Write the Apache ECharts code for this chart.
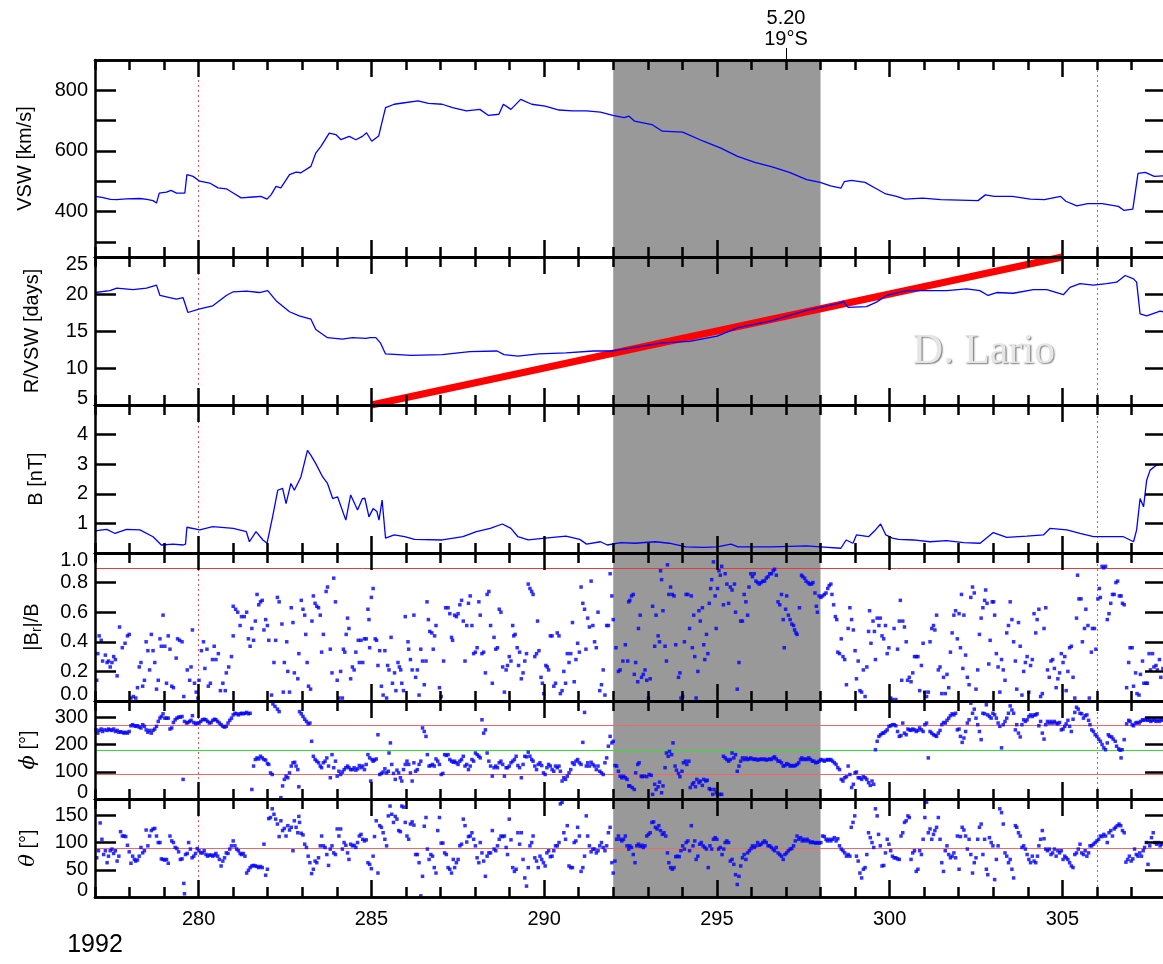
<!DOCTYPE html>
<html>
<head>
<meta charset="utf-8">
<script src="https://cdn.jsdelivr.net/npm/echarts@6/dist/echarts.min.js"></script>
<style>
html, body { margin: 0; padding: 0; background: #ffffff; }
#chart { width: 1163px; height: 964px; }
</style>
</head>
<body>
<div id="chart"></div>
<script>
// ---- time axis (day of year 1992) ----
const dayMin = 277, dayMax = 308;
const majorDays = [280, 285, 290, 295, 300, 305];
const shadeDays = [292, 298];
const markerDays = [280, 306];
const yearLabel = '1992';
const annotDay = 297;
const annotText = ['5.20', '19°S'];

// ---- y tick marks and tick labels ----
const vswTicks = [300, 400, 500, 600, 700, 800];
const vswLabels = [400, 600, 800];
const rvswTicks = [10, 15, 20];
const rvswLabels = [5, 10, 15, 20, 25];
const bTicks = [1, 2, 3, 4];
const bLabels = [1, 2, 3, 4];
const ratioTicks = [0.2, 0.4, 0.6, 0.8];
const ratioLabels = [0, 0.2, 0.4, 0.6, 0.8, 1.0];
const phiTicks = [100, 200, 300];
const phiLabels = [0, 100, 200, 300];
const thetaTicks = [50, 100, 150];
const thetaLabels = [0, 50, 100, 150];

// ---- reference levels ----
const ratioRef = [0.9];
const phiRefRed = [90, 270];
const phiRefGreen = [180];
const thetaRef = [90];

// R/VSW guide line (days)
const fitLine = [[285, 5], [305, 25]];

// ---- solar wind speed [km/s] ----
const vswData = [
[277.0,450],[277.2,447],[277.45,440],[277.63,439],[277.9,442],[278.3,443],[278.5,440],[278.68,436],[278.78,428],[278.86,461],
[279.07,464],[279.2,470],[279.36,461],[279.6,461],[279.66,522],[279.84,516],[280.03,500],[280.32,494],[280.56,478],[280.8,475],
[281.0,461],[281.23,445],[281.57,448],[281.8,450],[281.98,441],[282.1,456],[282.24,483],[282.38,478],[282.63,522],[282.82,530],
[282.96,528],[283.25,549],[283.39,593],[283.54,615],[283.78,659],[283.97,654],[284.12,637],[284.36,648],[284.55,637],[284.74,648],
[284.86,660],[285.01,632],[285.21,649],[285.28,682],[285.41,743],[285.66,754],[285.96,759],[286.35,765],[286.65,757],[287.05,754],
[287.35,743],[287.75,732],[288.14,737],[288.39,717],[288.69,721],[288.82,754],[289.04,737],[289.32,770],[289.64,754],[290.03,748],
[290.43,735],[290.83,732],[291.23,732],[291.63,728],[291.99,717],[292.32,710],[292.45,715],[292.62,698],[293.12,687],[293.42,665],
[294.01,662],[294.61,632],[295.1,610],[295.6,582],[296.1,562],[296.6,547],[297.1,529],[297.6,505],[297.99,496],[298.29,485],
[298.59,477],[298.69,499],[298.89,503],[299.29,496],[299.59,477],[299.89,458],[300.2,450],[300.44,441],[300.96,444],[301.48,439],
[302.3,437],[302.56,436],[302.77,455],[303.03,450],[303.55,450],[304.07,441],[304.48,439],[304.95,450],[305.1,434],[305.42,419],
[305.73,426],[306.15,426],[306.62,417],[306.78,404],[307.04,408],[307.19,526],[307.4,529],[307.66,516],[308.0,518]
];

// ---- R/VSW [days] ----
const rvswData = [
[277.0,20.2],[277.43,20.45],[277.63,20.8],[278.1,20.6],[278.49,20.8],[278.78,21.2],[278.88,19.8],[279.16,19.5],[279.36,19.3],[279.55,19.5],
[279.69,17.5],[280.03,18.0],[280.41,18.4],[280.8,19.8],[281.0,20.3],[281.38,20.4],[281.76,20.2],[282.0,20.45],[282.24,19.1],[282.63,17.6],
[282.91,17.05],[283.25,16.6],[283.39,15.2],[283.73,14.1],[284.16,13.9],[284.45,14.1],[284.84,14.0],[284.96,14.1],[285.13,14.1],[285.26,13.4],
[285.41,11.9],[286.15,11.7],[287.05,11.8],[287.85,12.2],[288.64,12.3],[288.84,11.8],[289.24,11.6],[289.84,11.9],[290.63,12.05],[291.43,12.3],
[291.99,12.3],[292.62,12.8],[293.42,13.4],[294.21,13.6],[295.01,14.3],[295.61,15.45],[296.6,16.4],[297.6,17.8],[298.59,18.8],[298.66,19.0],
[298.8,18.2],[299.33,18.3],[299.62,18.9],[299.91,19.8],[300.49,20.45],[301.16,20.45],[301.65,20.45],[302.23,20.7],[302.61,20.45],[302.85,19.8],
[303.1,20.2],[303.58,20.1],[304.16,20.6],[304.55,20.6],[305.03,19.9],[305.22,20.9],[305.51,21.4],[305.9,21.2],[306.28,21.4],[306.57,21.6],
[306.82,22.5],[307.06,22.05],[307.15,21.6],[307.25,17.3],[307.44,17.05],[307.83,17.7],[308.0,17.5]
];

// ---- magnetic field magnitude [nT] ----
const bData = [
[277.0,0.75],[277.34,0.8],[277.58,0.66],[277.91,0.8],[278.3,0.78],[278.68,0.55],[278.92,0.27],[279.26,0.30],[279.55,0.27],[279.62,0.3],
[279.66,0.87],[280.03,0.78],[280.41,0.89],[281.0,0.83],[281.38,0.72],[281.47,0.38],[281.66,0.72],[281.86,0.44],[281.98,0.33],[282.14,1.22],
[282.29,2.12],[282.43,2.18],[282.53,1.67],[282.67,2.35],[282.77,2.12],[282.96,2.57],[283.15,3.47],[283.25,3.30],[283.39,3.02],[283.59,2.57],
[283.73,2.35],[283.88,1.84],[284.02,1.9],[284.26,1.11],[284.4,1.96],[284.6,1.45],[284.74,1.84],[284.81,1.85],[284.93,1.22],[285.05,1.5],
[285.16,1.4],[285.22,1.11],[285.31,1.79],[285.41,0.5],[285.66,0.61],[285.96,0.55],[286.25,0.46],[287.05,0.44],[287.65,0.55],[288.04,0.72],
[288.44,0.83],[288.79,0.98],[289.04,0.83],[289.24,0.55],[289.54,0.44],[290.03,0.5],[290.63,0.57],[291.03,0.46],[291.23,0.3],[291.63,0.38],
[291.83,0.27],[292.22,0.35],[292.62,0.33],[293.22,0.38],[293.62,0.33],[294.11,0.21],[294.61,0.19],[295.01,0.21],[295.41,0.3],[295.61,0.21],
[296.6,0.21],[297.6,0.24],[297.99,0.21],[298.59,0.16],[298.74,0.44],[298.94,0.33],[299.04,0.61],[299.39,0.55],[299.59,0.78],[299.74,0.98],
[299.89,0.61],[300.08,0.5],[300.26,0.46],[300.69,0.44],[301.17,0.38],[301.65,0.42],[302.14,0.35],[302.62,0.33],[303.0,0.69],[303.39,0.53],
[303.97,0.57],[304.45,0.61],[304.64,0.83],[305.13,0.78],[305.51,0.66],[305.9,0.55],[306.28,0.55],[306.77,0.55],[307.06,0.38],[307.15,0.78],
[307.25,1.84],[307.35,1.56],[307.44,2.46],[307.54,2.8],[307.73,2.97],[308.0,3.02]
];

// ---- |Br|/B ----
const ratioData = [
[277.05,0.14],[277.08,0.32],[277.12,0.44],[277.18,0.41],[277.22,0.27],[277.3,0.31],[277.35,0.26],[277.39,0.27],[277.44,0.23],[277.49,0.26],
[277.54,0.30],[277.59,0.28],[277.64,0.17],[277.71,0.50],[277.79,0.36],[277.87,0.39],[277.94,0.44],[277.99,0.45],[278.04,0.02],[278.11,0.03],
[278.18,0.02],[278.23,0.09],[278.28,0.23],[278.33,0.26],[278.38,0.10],[278.43,0.14],[278.48,0.40],[278.53,0.34],[278.58,0.21],[278.63,0.45],
[278.68,0.34],[278.73,0.26],[278.78,0.08],[278.83,0.14],[278.88,0.42],[278.92,0.37],[278.97,0.58],[279.02,0.37],[279.07,0.12],[279.12,0.44],
[279.17,0.35],[279.22,0.10],[279.27,0.09],[279.35,0.29],[279.39,0.42],[279.45,0.41],[279.52,0.40],[279.57,0.03],[279.67,0.21],[279.74,0.14],
[279.78,0.23],[279.82,0.48],[279.88,0.12],[279.93,0.06],[279.98,0.02],[280.01,0.14],[280.08,0.34],[280.14,0.40],[280.18,0.22],[280.24,0.35],
[280.28,0.10],[280.34,0.12],[280.4,0.28],[280.45,0.37],[280.5,0.28],[280.57,0.32],[280.63,0.07],[280.7,0.12],[280.77,0.07],[280.8,0.19],
[280.87,0.23],[280.95,0.30],[281.0,0.44],[281.0,0.64],[281.07,0.62],[281.13,0.60],[281.2,0.51],[281.24,0.57],[281.32,0.57],[281.39,0.60],
[281.44,0.42],[281.49,0.37],[281.54,0.49],[281.59,0.41],[281.64,0.54],[281.69,0.72],[281.74,0.65],[281.79,0.67],[281.84,0.68],[281.89,0.48],
[281.94,0.55],[281.99,0.51],[282.03,0.41],[282.11,0.04],[282.18,0.26],[282.23,0.41],[282.28,0.70],[282.33,0.67],[282.41,0.52],[282.45,0.06],
[282.48,0.26],[282.55,0.40],[282.58,0.20],[282.63,0.06],[282.68,0.63],[282.73,0.53],[282.77,0.19],[282.87,0.15],[282.9,0.32],[282.97,0.68],
[283.02,0.62],[283.07,0.58],[283.1,0.45],[283.14,0.26],[283.18,0.10],[283.24,0.08],[283.28,0.54],[283.32,0.71],[283.37,0.66],[283.42,0.64],
[283.47,0.63],[283.52,0.58],[283.56,0.33],[283.61,0.45],[283.69,0.74],[283.73,0.77],[283.81,0.35],[283.86,0.19],[283.91,0.83],[283.96,0.67],
[284.01,0.14],[284.06,0.02],[284.11,0.20],[284.16,0.02],[284.19,0.35],[284.23,0.33],[284.27,0.45],[284.31,0.56],[284.35,0.49],[284.4,0.15],
[284.45,0.23],[284.5,0.21],[284.55,0.33],[284.62,0.41],[284.65,0.26],[284.7,0.41],[284.75,0.26],[284.8,0.42],[284.85,0.42],[284.9,0.62],
[284.93,0.55],[284.95,0.36],[285.0,0.70],[285.05,0.76],[285.11,0.42],[285.15,0.41],[285.19,0.24],[285.24,0.34],[285.29,0.10],[285.34,0.04],
[285.39,0.34],[285.44,0.02],[285.47,0.24],[285.51,0.21],[285.57,0.43],[285.61,0.12],[285.67,0.19],[285.71,0.07],[285.77,0.26],[285.81,0.23],
[285.85,0.21],[285.88,0.12],[285.93,0.07],[285.98,0.57],[286.06,0.40],[286.08,0.35],[286.13,0.28],[286.18,0.21],[286.23,0.58],[286.28,0.16],
[286.33,0.21],[286.38,0.04],[286.43,0.35],[286.48,0.27],[286.53,0.11],[286.58,0.27],[286.61,0.67],[286.65,0.55],[286.69,0.47],[286.75,0.46],
[286.79,0.35],[286.83,0.44],[286.87,0.51],[286.97,0.09],[287.02,0.03],[287.09,0.27],[287.15,0.63],[287.22,0.63],[287.27,0.59],[287.32,0.43],
[287.35,0.41],[287.41,0.58],[287.46,0.57],[287.51,0.59],[287.56,0.65],[287.61,0.68],[287.66,0.54],[287.71,0.27],[287.76,0.51],[287.81,0.66],
[287.86,0.71],[287.91,0.51],[287.96,0.32],[288.01,0.33],[288.06,0.36],[288.11,0.67],[288.15,0.58],[288.2,0.32],[288.25,0.33],[288.3,0.19],
[288.35,0.72],[288.4,0.74],[288.45,0.51],[288.5,0.12],[288.55,0.43],[288.6,0.35],[288.65,0.36],[288.7,0.62],[288.75,0.60],[288.8,0.23],
[288.85,0.06],[288.9,0.21],[288.94,0.24],[288.99,0.30],[289.04,0.27],[289.09,0.51],[289.12,0.44],[289.16,0.45],[289.22,0.36],[289.26,0.24],
[289.29,0.33],[289.34,0.15],[289.39,0.19],[289.44,0.27],[289.49,0.32],[289.54,0.79],[289.59,0.76],[289.64,0.74],[289.68,0.72],[289.73,0.30],
[289.78,0.32],[289.81,0.54],[289.85,0.34],[289.91,0.16],[289.95,0.12],[289.99,0.05],[290.05,0.24],[290.09,0.23],[290.13,0.21],[290.18,0.44],
[290.23,0.44],[290.28,0.10],[290.33,0.12],[290.38,0.46],[290.43,0.44],[290.47,0.05],[290.52,0.07],[290.57,0.20],[290.62,0.12],[290.67,0.32],
[290.72,0.26],[290.77,0.32],[290.82,0.53],[290.87,0.13],[290.92,0.28],[290.97,0.39],[291.02,0.33],[291.07,0.77],[291.12,0.66],[291.17,0.62],
[291.21,0.35],[291.26,0.56],[291.31,0.50],[291.36,0.81],[291.41,0.51],[291.46,0.40],[291.51,0.36],[291.56,0.60],[291.61,0.07],[291.66,0.11],
[291.71,0.21],[291.76,0.04],[291.81,0.51],[291.86,0.51],[291.91,0.86],[291.96,0.71],[292.0,0.55],[292.08,0.36],[292.15,0.20],[292.2,0.21],
[292.28,0.27],[292.35,0.38],[292.42,0.27],[292.45,0.67],[292.48,0.68],[292.53,0.71],[292.58,0.72],[292.61,0.18],[292.65,0.26],[292.71,0.13],
[292.73,0.49],[292.78,0.58],[292.82,0.16],[292.87,0.18],[292.92,0.21],[292.97,0.14],[293.02,0.02],[293.07,0.15],[293.14,0.64],[293.2,0.37],
[293.24,0.58],[293.3,0.44],[293.34,0.40],[293.37,0.88],[293.4,0.82],[293.44,0.61],[293.5,0.37],[293.54,0.27],[293.57,0.92],[293.61,0.72],
[293.66,0.77],[293.71,0.72],[293.76,0.71],[293.81,0.38],[293.89,0.16],[293.93,0.19],[293.96,0.02],[294.01,0.03],[294.06,0.40],[294.11,0.72],
[294.16,0.72],[294.21,0.49],[294.26,0.71],[294.29,0.36],[294.33,0.58],[294.36,0.30],[294.4,0.02],[294.45,0.20],[294.48,0.61],[294.52,0.54],
[294.58,0.63],[294.62,0.38],[294.65,0.28],[294.7,0.45],[294.74,0.32],[294.78,0.66],[294.82,0.76],[294.85,0.82],[294.9,0.94],[294.95,0.71],
[294.98,0.49],[295.02,0.76],[295.06,0.88],[295.1,0.85],[295.14,0.91],[295.19,0.65],[295.24,0.86],[295.29,0.79],[295.34,0.66],[295.39,0.77],
[295.44,0.75],[295.51,0.79],[295.54,0.60],[295.59,0.08],[295.64,0.26],[295.69,0.54],[295.74,0.54],[295.79,0.72],[295.84,0.67],[295.89,0.58],
[295.93,0.77],[295.98,0.86],[296.03,0.84],[296.08,0.86],[296.13,0.81],[296.18,0.80],[296.23,0.79],[296.28,0.80],[296.33,0.81],[296.38,0.81],
[296.43,0.83],[296.48,0.84],[296.53,0.86],[296.58,0.86],[296.63,0.88],[296.67,0.89],[296.72,0.85],[296.77,0.67],[296.82,0.65],[296.87,0.72],
[296.92,0.55],[296.95,0.36],[296.99,0.62],[297.02,0.71],[297.07,0.58],[297.12,0.55],[297.17,0.52],[297.22,0.51],[297.25,0.48],[297.29,0.46],
[297.32,0.45],[297.39,0.63],[297.45,0.85],[297.48,0.84],[297.54,0.83],[297.58,0.81],[297.64,0.80],[297.68,0.79],[297.74,0.79],[297.78,0.80],
[297.84,0.73],[297.88,0.64],[297.91,0.60],[297.96,0.71],[298.01,0.70],[298.06,0.71],[298.11,0.72],[298.16,0.73],[298.21,0.76],[298.25,0.78],
[298.3,0.79],[298.33,0.72],[298.38,0.65],[298.43,0.57],[298.47,0.55],[298.5,0.33],[298.55,0.32],[298.6,0.42],[298.65,0.30],[298.7,0.28],
[298.75,0.11],[298.8,0.49],[298.85,0.63],[298.9,0.55],[298.95,0.48],[299.0,0.34],[299.04,0.15],[299.09,0.27],[299.14,0.07],[299.19,0.06],
[299.24,0.21],[299.29,0.03],[299.34,0.23],[299.39,0.47],[299.42,0.61],[299.46,0.39],[299.52,0.54],[299.56,0.47],[299.59,0.28],[299.64,0.56],
[299.69,0.51],[299.73,0.56],[299.78,0.44],[299.83,0.42],[299.88,0.51],[299.93,0.32],[299.98,0.36],[300.03,0.02],[300.08,0.01],[300.13,0.49],
[300.18,0.01],[300.23,0.35],[300.28,0.54],[300.31,0.68],[300.35,0.14],[300.38,0.54],[300.43,0.50],[300.48,0.40],[300.52,0.14],[300.57,0.16],
[300.62,0.13],[300.67,0.19],[300.72,0.30],[300.77,0.30],[300.82,0.30],[300.87,0.07],[300.92,0.24],[300.97,0.39],[301.02,0.06],[301.07,0.03],
[301.12,0.06],[301.17,0.40],[301.22,0.49],[301.27,0.51],[301.31,0.48],[301.36,0.58],[301.41,0.21],[301.46,0.23],[301.51,0.05],[301.56,0.16],
[301.61,0.05],[301.66,0.18],[301.71,0.09],[301.76,0.33],[301.81,0.46],[301.86,0.58],[301.91,0.61],[301.96,0.42],[302.01,0.59],[302.05,0.36],
[302.08,0.72],[302.12,0.22],[302.15,0.58],[302.2,0.31],[302.25,0.16],[302.3,0.11],[302.35,0.70],[302.4,0.77],[302.45,0.73],[302.5,0.08],
[302.55,0.21],[302.6,0.45],[302.65,0.56],[302.7,0.63],[302.75,0.68],[302.78,0.75],[302.82,0.66],[302.87,0.25],[302.91,0.41],[302.97,0.67],
[303.01,0.67],[303.04,0.58],[303.09,0.32],[303.14,0.23],[303.19,0.06],[303.24,0.28],[303.29,0.21],[303.34,0.14],[303.39,0.46],[303.44,0.51],
[303.49,0.67],[303.54,0.55],[303.59,0.40],[303.64,0.27],[303.68,0.08],[303.73,0.53],[303.78,0.37],[303.83,0.04],[303.88,0.20],[303.93,0.26],
[303.98,0.30],[304.03,0.06],[304.08,0.24],[304.13,0.28],[304.18,0.59],[304.23,0.46],[304.27,0.55],[304.32,0.62],[304.37,0.03],[304.42,0.05],
[304.47,0.49],[304.52,0.63],[304.57,0.21],[304.62,0.16],[304.67,0.27],[304.72,0.28],[304.77,0.22],[304.82,0.09],[304.87,0.15],[304.92,0.19],
[304.97,0.32],[305.02,0.26],[305.07,0.30],[305.11,0.07],[305.16,0.20],[305.21,0.36],[305.26,0.37],[305.31,0.16],[305.36,0.02],[305.41,0.56],
[305.44,0.85],[305.48,0.69],[305.54,0.69],[305.58,0.40],[305.64,0.49],[305.68,0.62],[305.74,0.51],[305.78,0.02],[305.84,0.33],[305.87,0.49],
[305.93,0.49],[305.97,0.35],[306.03,0.69],[306.07,0.76],[306.1,0.70],[306.15,0.91],[306.2,0.90],[306.25,0.91],[306.3,0.55],[306.35,0.59],
[306.4,0.66],[306.45,0.72],[306.5,0.72],[306.55,0.80],[306.6,0.81],[306.65,0.71],[306.7,0.71],[306.74,0.66],[306.79,0.65],[306.86,0.09],
[306.92,0.26],[306.96,0.36],[307.02,0.36],[307.06,0.10],[307.12,0.19],[307.16,0.05],[307.22,0.04],[307.26,0.18],[307.32,0.27],[307.36,0.12],
[307.42,0.12],[307.46,0.12],[307.51,0.32],[307.55,0.21],[307.61,0.32],[307.65,0.23],[307.71,0.24],[307.75,0.21],[307.81,0.28],[307.85,0.16],
[307.91,0.22]
];

// ---- field azimuth phi [deg] ----
const phiData = [
[277.03,254],[277.08,242],[277.12,252],[277.18,257],[277.22,248],[277.28,254],[277.35,252],[277.39,257],[277.44,254],[277.49,252],
[277.54,257],[277.59,248],[277.64,252],[277.69,245],[277.74,247],[277.79,245],[277.84,242],[277.89,245],[277.94,242],[277.99,248],
[278.04,269],[278.09,273],[278.14,269],[278.18,267],[278.23,269],[278.28,264],[278.33,261],[278.38,273],[278.43,267],[278.48,254],
[278.53,245],[278.58,252],[278.63,242],[278.68,252],[278.73,257],[278.78,267],[278.83,285],[278.88,297],[278.92,303],[278.97,313],
[279.02,297],[279.07,297],[279.12,297],[279.17,257],[279.22,261],[279.27,281],[279.32,291],[279.37,297],[279.42,301],[279.47,301],
[279.52,303],[279.55,72],[279.59,285],[279.65,279],[279.69,281],[279.74,285],[279.78,289],[279.82,306],[279.86,281],[279.91,276],
[279.96,279],[280.01,279],[280.06,285],[280.11,291],[280.16,293],[280.21,291],[280.26,285],[280.31,279],[280.36,281],[280.41,289],
[280.46,293],[280.5,291],[280.55,285],[280.6,279],[280.65,273],[280.7,267],[280.75,264],[280.8,267],[280.85,279],[280.9,289],
[280.95,297],[281.0,309],[281.05,315],[281.1,313],[281.15,309],[281.2,313],[281.24,315],[281.29,313],[281.34,315],[281.39,318],
[281.44,313],[281.49,315],[281.54,35],[281.59,121],[281.64,145],[281.69,151],[281.74,147],[281.79,157],[281.84,151],[281.89,145],
[281.94,143],[281.99,130],[282.03,127],[282.08,96],[282.13,90],[282.15,349],[282.21,340],[282.28,330],[282.33,321],[282.38,5],
[282.43,48],[282.48,72],[282.53,84],[282.58,78],[282.63,96],[282.68,121],[282.73,133],[282.78,135],[282.82,121],[282.87,108],
[282.9,45],[282.92,321],[282.97,313],[283.02,303],[283.07,293],[283.12,285],[283.17,276],[283.22,279],[283.27,212],[283.32,157],
[283.37,145],[283.42,139],[283.47,133],[283.52,121],[283.56,115],[283.61,133],[283.66,139],[283.71,151],[283.76,121],[283.81,78],
[283.86,163],[283.91,115],[283.96,139],[284.01,84],[284.06,102],[284.11,90],[284.16,99],[284.21,108],[284.26,115],[284.31,121],
[284.35,115],[284.4,108],[284.45,108],[284.5,115],[284.55,106],[284.6,111],[284.65,123],[284.7,115],[284.75,121],[284.8,108],
[284.85,127],[284.9,163],[284.95,151],[284.98,66],[285.02,145],[285.05,139],[285.09,143],[285.14,147],[285.19,236],[285.24,90],
[285.29,94],[285.34,99],[285.39,111],[285.44,96],[285.49,102],[285.51,169],[285.55,206],[285.59,127],[285.64,94],[285.69,72],
[285.74,106],[285.79,96],[285.84,78],[285.88,66],[285.93,108],[285.98,127],[286.03,139],[286.08,127],[286.13,96],[286.18,66],
[286.23,133],[286.28,102],[286.33,108],[286.38,127],[286.43,139],[286.48,261],[286.53,248],[286.58,230],[286.62,163],[286.67,121],
[286.72,123],[286.77,127],[286.82,121],[286.87,147],[286.92,139],[286.97,127],[287.02,90],[287.07,94],[287.12,163],[287.17,160],
[287.22,163],[287.27,145],[287.32,139],[287.37,135],[287.41,139],[287.46,133],[287.51,127],[287.56,139],[287.61,145],[287.66,157],
[287.71,121],[287.76,127],[287.81,108],[287.86,121],[287.91,145],[287.96,139],[288.01,169],[288.06,163],[288.11,157],[288.15,151],
[288.2,291],[288.25,242],[288.3,254],[288.35,169],[288.4,139],[288.45,121],[288.5,84],[288.55,115],[288.6,121],[288.65,115],
[288.7,133],[288.75,139],[288.8,127],[288.85,84],[288.9,115],[288.94,115],[288.99,121],[289.04,133],[289.09,139],[289.14,145],
[289.19,157],[289.24,123],[289.29,115],[289.34,78],[289.39,127],[289.44,157],[289.49,155],[289.54,172],[289.59,157],[289.64,145],
[289.68,139],[289.73,121],[289.78,108],[289.83,127],[289.88,133],[289.93,123],[289.98,96],[290.03,90],[290.08,115],[290.13,127],
[290.18,121],[290.23,108],[290.28,102],[290.33,121],[290.38,115],[290.43,121],[290.47,102],[290.52,66],[290.57,78],[290.62,72],
[290.67,84],[290.72,96],[290.77,108],[290.82,133],[290.87,127],[290.92,139],[290.97,145],[291.02,133],[291.07,127],[291.12,208],
[291.17,318],[291.22,121],[291.26,133],[291.31,121],[291.36,135],[291.41,127],[291.46,121],[291.51,108],[291.56,121],[291.61,102],
[291.66,96],[291.71,90],[291.76,133],[291.81,151],[291.86,194],[291.91,230],[291.96,206],[292.0,212],[292.05,123],[292.1,121],
[292.15,102],[292.2,84],[292.25,78],[292.3,84],[292.35,78],[292.4,72],[292.45,48],[292.48,48],[292.55,42],[292.61,35],
[292.65,96],[292.71,127],[292.75,133],[292.81,84],[292.84,82],[292.9,84],[292.97,82],[293.04,90],[293.1,87],[293.14,17],
[293.2,54],[293.24,35],[293.3,45],[293.34,62],[293.4,23],[293.44,48],[293.5,115],[293.54,169],[293.59,157],[293.63,175],
[293.69,163],[293.73,206],[293.79,121],[293.83,106],[293.89,94],[293.93,82],[293.99,102],[294.03,133],[294.09,139],[294.13,127],
[294.19,139],[294.23,42],[294.29,54],[294.33,60],[294.38,45],[294.42,72],[294.48,60],[294.52,66],[294.58,50],[294.62,72],
[294.68,66],[294.72,69],[294.78,38],[294.82,35],[294.88,17],[294.92,35],[294.98,23],[295.02,17],[295.08,17],[295.14,17],
[295.19,157],[295.24,151],[295.29,145],[295.34,139],[295.39,145],[295.44,169],[295.49,151],[295.54,163],[295.59,102],[295.64,121],
[295.69,139],[295.74,151],[295.79,145],[295.84,151],[295.89,145],[295.93,147],[295.98,151],[296.03,147],[296.08,145],[296.13,147],
[296.18,143],[296.23,145],[296.28,147],[296.33,145],[296.38,147],[296.43,143],[296.48,145],[296.53,147],[296.58,145],[296.63,151],
[296.67,155],[296.72,147],[296.77,139],[296.82,139],[296.87,133],[296.92,121],[296.97,123],[297.02,130],[297.07,127],[297.12,121],
[297.17,123],[297.22,121],[297.27,123],[297.32,127],[297.37,133],[297.42,145],[297.46,151],[297.51,145],[297.56,147],[297.61,145],
[297.66,151],[297.71,145],[297.76,139],[297.81,139],[297.86,133],[297.91,135],[297.96,139],[298.01,145],[298.06,143],[298.11,139],
[298.16,143],[298.21,145],[298.25,143],[298.3,145],[298.35,139],[298.4,133],[298.45,127],[298.5,115],[298.55,108],[298.6,72],
[298.65,66],[298.7,78],[298.75,82],[298.8,121],[298.85,90],[298.9,42],[298.95,54],[299.0,96],[299.04,99],[299.09,78],
[299.14,78],[299.19,72],[299.24,82],[299.29,78],[299.34,72],[299.39,60],[299.44,50],[299.49,66],[299.54,54],[299.59,181],
[299.64,212],[299.69,230],[299.74,236],[299.79,242],[299.83,242],[299.88,248],[299.93,254],[299.98,267],[300.03,269],[300.08,273],
[300.13,273],[300.18,269],[300.23,248],[300.28,230],[300.33,233],[300.38,279],[300.43,242],[300.48,236],[300.53,257],[300.57,254],
[300.62,252],[300.67,257],[300.72,254],[300.77,248],[300.82,252],[300.87,261],[300.92,254],[300.97,248],[301.02,273],[301.07,279],
[301.12,151],[301.17,248],[301.22,242],[301.27,236],[301.32,233],[301.36,230],[301.41,242],[301.46,252],[301.51,273],[301.56,281],
[301.61,279],[301.66,289],[301.71,297],[301.76,306],[301.81,313],[301.86,309],[301.91,315],[301.96,254],[302.01,257],[302.05,230],
[302.1,208],[302.15,224],[302.2,248],[302.25,279],[302.3,291],[302.35,352],[302.4,315],[302.45,330],[302.5,297],[302.55,273],
[302.6,248],[302.65,218],[302.7,315],[302.75,313],[302.8,346],[302.84,309],[302.89,303],[302.94,297],[302.99,315],[303.04,309],
[303.09,297],[303.14,279],[303.19,267],[303.24,188],[303.29,273],[303.34,285],[303.39,297],[303.44,315],[303.49,342],[303.54,327],
[303.59,315],[303.64,254],[303.68,273],[303.73,242],[303.78,228],[303.83,273],[303.88,291],[303.93,285],[303.98,291],[304.03,303],
[304.08,309],[304.13,303],[304.18,309],[304.23,309],[304.27,313],[304.32,269],[304.37,285],[304.42,242],[304.47,220],[304.52,273],
[304.57,285],[304.62,279],[304.67,285],[304.72,279],[304.77,285],[304.82,279],[304.87,276],[304.92,281],[304.97,254],[305.02,257],
[305.07,267],[305.11,276],[305.16,289],[305.21,267],[305.26,248],[305.31,293],[305.36,318],[305.41,337],[305.46,330],[305.51,315],
[305.56,313],[305.61,297],[305.66,306],[305.71,309],[305.76,289],[305.8,273],[305.85,254],[305.9,248],[305.95,236],[306.0,230],
[306.05,220],[306.1,212],[306.15,200],[306.2,188],[306.25,181],[306.3,206],[306.33,236],[306.37,230],[306.43,228],[306.47,220],
[306.53,212],[306.57,194],[306.63,184],[306.67,179],[306.7,151],[306.73,181],[306.79,218],[306.86,276],[306.92,289],[306.96,285],
[307.02,273],[307.06,269],[307.12,279],[307.16,281],[307.22,279],[307.26,285],[307.32,291],[307.36,289],[307.42,293],[307.46,289],
[307.52,291],[307.56,285],[307.61,289],[307.66,291],[307.71,285],[307.75,289],[307.81,285],[307.85,291],[307.91,289]
];

// ---- field elevation theta [deg] ----
const thetaData = [
[277.05,72],[277.1,85],[277.15,136],[277.2,106],[277.25,78],[277.3,85],[277.35,63],[277.39,75],[277.44,85],[277.49,88],
[277.54,80],[277.59,85],[277.64,66],[277.69,75],[277.74,120],[277.79,112],[277.84,112],[277.89,111],[277.94,95],[277.99,83],
[278.04,62],[278.09,75],[278.14,69],[278.18,66],[278.23,68],[278.28,75],[278.33,91],[278.38,81],[278.43,85],[278.48,123],
[278.53,94],[278.58,112],[278.63,122],[278.68,125],[278.73,126],[278.78,112],[278.83,100],[278.88,100],[278.92,70],[278.97,69],
[279.02,68],[279.07,69],[279.12,62],[279.17,112],[279.22,103],[279.27,100],[279.32,91],[279.37,89],[279.42,83],[279.47,69],
[279.52,70],[279.57,25],[279.59,6],[279.62,78],[279.67,80],[279.71,100],[279.76,88],[279.81,72],[279.86,75],[279.91,80],
[279.96,89],[280.01,85],[280.06,81],[280.11,81],[280.16,85],[280.21,78],[280.26,75],[280.31,77],[280.36,77],[280.41,75],
[280.46,77],[280.5,80],[280.55,75],[280.6,69],[280.65,57],[280.7,66],[280.75,72],[280.8,81],[280.85,80],[280.9,88],
[280.95,94],[281.0,103],[281.05,94],[281.1,88],[281.15,85],[281.2,80],[281.24,78],[281.29,80],[281.34,75],[281.39,44],
[281.44,49],[281.49,54],[281.54,57],[281.59,58],[281.64,57],[281.69,56],[281.74,54],[281.79,56],[281.84,54],[281.89,97],
[281.94,40],[281.99,51],[282.03,144],[282.08,146],[282.13,162],[282.18,152],[282.23,143],[282.28,134],[282.33,111],[282.38,140],
[282.43,122],[282.48,126],[282.53,112],[282.58,131],[282.63,123],[282.68,128],[282.73,85],[282.77,140],[282.82,128],[282.87,118],
[282.9,148],[282.92,137],[282.97,117],[283.02,114],[283.07,97],[283.12,91],[283.17,75],[283.22,63],[283.27,43],[283.32,51],
[283.37,66],[283.42,63],[283.47,72],[283.52,94],[283.56,112],[283.61,94],[283.66,91],[283.71,78],[283.76,58],[283.81,88],
[283.86,94],[283.91,81],[283.96,78],[284.01,125],[284.06,112],[284.11,125],[284.16,88],[284.21,100],[284.26,95],[284.31,81],
[284.35,69],[284.4,97],[284.45,94],[284.5,95],[284.55,91],[284.6,100],[284.65,112],[284.7,115],[284.75,106],[284.8,103],
[284.85,105],[284.9,63],[284.95,60],[285.0,52],[285.05,75],[285.09,111],[285.14,140],[285.19,44],[285.24,131],[285.29,128],
[285.34,118],[285.39,106],[285.44,94],[285.49,149],[285.54,167],[285.59,152],[285.64,137],[285.69,148],[285.74,143],[285.79,122],
[285.84,120],[285.88,167],[285.93,165],[285.98,137],[286.03,112],[286.08,106],[286.13,134],[286.18,138],[286.23,132],[286.28,78],
[286.33,78],[286.38,63],[286.43,2],[286.48,38],[286.53,130],[286.58,146],[286.62,88],[286.67,69],[286.72,78],[286.77,75],
[286.82,54],[286.87,44],[286.92,122],[286.97,146],[287.02,99],[287.07,99],[287.12,81],[287.17,78],[287.22,54],[287.27,51],
[287.32,44],[287.37,69],[287.41,54],[287.46,63],[287.51,69],[287.56,94],[287.61,97],[287.66,143],[287.71,131],[287.76,101],
[287.81,111],[287.86,112],[287.91,118],[287.96,106],[288.01,94],[288.06,72],[288.11,63],[288.15,100],[288.2,81],[288.25,66],
[288.3,38],[288.35,75],[288.4,81],[288.45,81],[288.5,122],[288.55,88],[288.6,85],[288.65,94],[288.7,106],[288.75,112],
[288.8,111],[288.85,112],[288.9,91],[288.94,78],[288.99,143],[289.04,105],[289.09,54],[289.14,47],[289.19,51],[289.24,118],
[289.29,97],[289.34,118],[289.39,69],[289.44,35],[289.49,20],[289.54,54],[289.59,94],[289.64,100],[289.68,112],[289.73,72],
[289.78,66],[289.83,54],[289.88,75],[289.93,69],[289.98,63],[290.03,57],[290.08,81],[290.13,85],[290.18,74],[290.23,75],
[290.28,85],[290.33,94],[290.38,94],[290.43,100],[290.47,171],[290.52,174],[290.57,118],[290.62,106],[290.67,131],[290.72,57],
[290.77,54],[290.82,54],[290.87,100],[290.92,103],[290.97,128],[291.02,112],[291.07,47],[291.12,54],[291.17,75],[291.22,149],
[291.26,112],[291.31,94],[291.36,83],[291.41,88],[291.46,88],[291.51,81],[291.56,85],[291.61,94],[291.66,100],[291.71,91],
[291.76,85],[291.81,94],[291.86,118],[291.91,128],[291.96,63],[292.0,44],[292.05,66],[292.1,106],[292.15,112],[292.2,106],
[292.25,103],[292.3,106],[292.35,112],[292.4,94],[292.45,88],[292.48,94],[292.53,91],[292.58,78],[292.63,63],[292.68,94],
[292.73,97],[292.78,93],[292.83,95],[292.87,91],[292.92,94],[292.97,112],[293.02,115],[293.07,118],[293.12,137],[293.17,138],
[293.22,128],[293.27,125],[293.32,131],[293.37,122],[293.42,115],[293.47,118],[293.52,112],[293.57,81],[293.61,63],[293.66,54],
[293.71,51],[293.76,54],[293.81,74],[293.86,75],[293.91,74],[293.96,85],[294.01,94],[294.06,88],[294.11,100],[294.16,103],
[294.21,85],[294.26,131],[294.31,94],[294.36,103],[294.4,69],[294.45,75],[294.5,97],[294.55,100],[294.6,94],[294.65,91],
[294.7,88],[294.75,54],[294.8,94],[294.85,88],[294.9,106],[294.95,109],[295.0,106],[295.05,88],[295.1,91],[295.15,78],
[295.2,88],[295.24,100],[295.29,103],[295.34,100],[295.39,66],[295.44,69],[295.49,60],[295.54,41],[295.59,23],[295.64,38],
[295.69,57],[295.74,72],[295.79,78],[295.84,69],[295.89,81],[295.94,85],[295.99,89],[296.03,94],[296.08,91],[296.13,94],
[296.18,100],[296.23,95],[296.28,97],[296.33,100],[296.38,103],[296.43,100],[296.48,94],[296.53,94],[296.58,91],[296.63,88],
[296.67,85],[296.72,91],[296.77,81],[296.82,78],[296.87,75],[296.92,69],[296.97,78],[297.02,81],[297.07,85],[297.12,88],
[297.17,89],[297.22,94],[297.27,103],[297.32,112],[297.37,106],[297.42,109],[297.47,103],[297.51,106],[297.56,103],[297.61,106],
[297.66,103],[297.71,100],[297.76,101],[297.81,100],[297.86,99],[297.91,100],[297.96,99],[298.01,100],[298.06,112],[298.11,111],
[298.16,106],[298.2,103],[298.25,106],[298.3,103],[298.35,106],[298.4,109],[298.45,103],[298.5,107],[298.55,94],[298.6,88],
[298.65,85],[298.7,81],[298.75,75],[298.8,78],[298.85,75],[298.89,128],[298.94,137],[298.99,149],[299.04,75],[299.09,66],
[299.14,44],[299.19,35],[299.24,51],[299.29,54],[299.34,78],[299.39,118],[299.44,109],[299.49,100],[299.54,91],[299.59,162],
[299.64,149],[299.68,115],[299.73,94],[299.78,57],[299.83,58],[299.88,81],[299.93,106],[299.98,97],[300.03,85],[300.08,75],
[300.13,72],[300.18,72],[300.23,70],[300.28,69],[300.33,112],[300.38,118],[300.43,137],[300.48,140],[300.53,149],[300.57,146],
[300.62,69],[300.67,81],[300.72,85],[300.77,47],[300.82,51],[300.87,85],[300.92,78],[300.97,106],[301.02,146],[301.07,174],
[301.12,118],[301.17,125],[301.22,106],[301.27,115],[301.31,122],[301.36,128],[301.41,146],[301.46,106],[301.51,63],[301.56,47],
[301.61,85],[301.66,94],[301.71,78],[301.76,72],[301.81,75],[301.86,81],[301.91,72],[301.96,112],[302.01,51],[302.05,111],
[302.1,128],[302.15,123],[302.2,112],[302.25,88],[302.3,106],[302.35,78],[302.4,44],[302.45,63],[302.5,72],[302.55,106],
[302.6,128],[302.65,134],[302.7,78],[302.75,106],[302.8,51],[302.84,41],[302.89,109],[302.94,100],[302.99,94],[303.04,32],
[303.09,69],[303.14,94],[303.19,162],[303.24,155],[303.29,134],[303.34,81],[303.39,75],[303.44,63],[303.49,69],[303.54,51],
[303.59,35],[303.64,131],[303.68,128],[303.73,118],[303.78,112],[303.83,91],[303.88,94],[303.93,88],[303.98,78],[304.03,69],
[304.08,63],[304.13,75],[304.18,66],[304.23,63],[304.28,75],[304.32,94],[304.37,106],[304.42,122],[304.47,107],[304.52,88],
[304.57,85],[304.62,88],[304.67,78],[304.72,81],[304.77,88],[304.82,75],[304.87,85],[304.92,81],[304.97,85],[305.02,69],
[305.07,75],[305.11,72],[305.16,69],[305.21,63],[305.26,57],[305.31,54],[305.36,78],[305.41,81],[305.46,88],[305.51,97],
[305.56,81],[305.61,78],[305.66,85],[305.71,75],[305.76,81],[305.8,94],[305.85,94],[305.9,97],[305.95,100],[306.0,103],
[306.05,106],[306.1,112],[306.15,111],[306.2,115],[306.25,112],[306.3,100],[306.35,118],[306.4,122],[306.45,112],[306.5,125],
[306.54,128],[306.59,131],[306.64,134],[306.69,131],[306.74,122],[306.79,118],[306.84,64],[306.89,69],[306.94,75],[306.99,66],
[307.04,70],[307.09,88],[307.14,78],[307.19,75],[307.24,81],[307.29,75],[307.34,85],[307.38,91],[307.43,100],[307.48,60],
[307.53,94],[307.58,109],[307.63,118],[307.68,100],[307.73,97],[307.78,100],[307.83,94],[307.88,97]
];

// ================= chart construction =================
const FONT = "'Liberation Sans', Arial, Helvetica, sans-serif";
const BLUE = '#0000ff';
const AXIS_W = 2.5;
const LABEL_SIZE = 20;

const panels = [
  { top: 60,  height: 197, min: 250, max: 900, ticks: vswTicks,   labels: vswLabels,   name: 'VSW [km/s]',   gap: 60 },
  { top: 257, height: 148, min: 5,   max: 25,  ticks: rvswTicks,  labels: rvswLabels,  name: 'R/VSW [days]', gap: 53, lowEdge: true, highEdge: true },
  { top: 405, height: 148, min: 0,   max: 5,   ticks: bTicks,     labels: bLabels,     name: 'B [nT]',       gap: 49 },
  { top: 553, height: 148, min: 0,   max: 1,   ticks: ratioTicks, labels: ratioLabels, name: '|B{s|r}|/B',   gap: 51, lowEdge: true, highEdge: true, digits: 1 },
  { top: 701, height: 98,  min: 0,   max: 360, ticks: phiTicks,   labels: phiLabels,   name: '{g|ϕ} [°]',    gap: 56, lowEdge: true },
  { top: 799, height: 98,  min: 0,   max: 180, ticks: thetaTicks, labels: thetaLabels, name: '{g|θ} [°]',    gap: 56, lowEdge: true }
];

const grids = panels.map(p => ({
  left: 95, width: 1071, top: p.top, height: p.height,
  containLabel: false, outerBoundsMode: 'none'
}));

const tickLine = { color: '#000', width: AXIS_W };

function xAxisDef(gi, position, major) {
  const showLabels = major && position === 'bottom' && gi === panels.length - 1;
  const ax = {
    gridIndex: gi, type: 'value', min: dayMin, max: dayMax, position,
    axisLine: { show: true, onZero: false, lineStyle: { color: '#000', width: AXIS_W } },
    axisTick: major
      ? { show: true, inside: true, length: 17, customValues: majorDays, lineStyle: tickLine }
      : { show: true, inside: true, length: 10, lineStyle: tickLine },
    axisLabel: showLabels
      ? { show: true, customValues: majorDays, margin: 12, fontSize: LABEL_SIZE, color: '#000', fontFamily: FONT,
          formatter: v => String(v) }
      : { show: false },
    splitLine: { show: false },
    z: 10
  };
  if (!major) ax.interval = 1;
  return ax;
}

const xAxes = [];
panels.forEach((p, gi) => {
  xAxes.push(xAxisDef(gi, 'bottom', false));
  xAxes.push(xAxisDef(gi, 'bottom', true));
  xAxes.push(xAxisDef(gi, 'top', false));
  xAxes.push(xAxisDef(gi, 'top', true));
});
// orbit annotation above the top panel
xAxes.push({
  gridIndex: 0, type: 'value', min: dayMin, max: dayMax, position: 'top',
  axisLine: { show: false, onZero: false },
  axisTick: { show: true, inside: false, length: 12, customValues: [annotDay], lineStyle: { color: '#000', width: 1 } },
  axisLabel: { show: true, customValues: [annotDay], margin: 10, fontSize: 20, lineHeight: 21,
               color: '#000', fontFamily: FONT, formatter: () => annotText.join('\n') },
  splitLine: { show: false },
  z: 10
});

function yAxisDef(gi, p, position) {
  const left = position === 'left';
  const fmt = v => p.digits ? Number(v).toFixed(p.digits) : String(v);
  const label = left ? {
    show: true, customValues: p.labels, margin: 7, fontSize: LABEL_SIZE, lineHeight: 14,
    color: '#000', fontFamily: FONT,
    formatter: fmt, showMinLabel: true, showMaxLabel: true, hideOverlap: false
  } : { show: false };
  if (left && p.lowEdge) label.verticalAlignMinLabel = 'bottom';
  if (left && p.highEdge) label.verticalAlignMaxLabel = 'top';
  return {
    gridIndex: gi, type: 'value', min: p.min, max: p.max, position,
    axisLine: { show: true, onZero: false, lineStyle: { color: '#000', width: AXIS_W } },
    axisTick: { show: true, inside: true, length: 21, customValues: p.ticks, lineStyle: tickLine },
    axisLabel: label,
    splitLine: { show: false },
    name: left ? p.name : '',
    nameLocation: 'middle', nameRotate: 90, nameGap: p.gap,
    nameTextStyle: {
      fontSize: 20, color: '#000', fontFamily: FONT,
      rich: {
        s: { fontSize: 14, fontFamily: FONT, color: '#000', padding: [9, 0, 0, 0] },
        g: { fontSize: 21, fontStyle: 'italic', fontFamily: "'DejaVu Serif', serif", color: '#000' }
      }
    },
    z: 10
  };
}

const yAxes = [];
panels.forEach((p, gi) => {
  yAxes.push(yAxisDef(gi, p, 'left'));
  yAxes.push(yAxisDef(gi, p, 'right'));
});

const shadeArea = {
  silent: true, z: 1,
  itemStyle: { color: '#999999' },
  data: [[{ xAxis: shadeDays[0] }, { xAxis: shadeDays[1] }]]
};

function markLines(extra) {
  const days = markerDays.map(d => ({
    xAxis: d, lineStyle: { color: '#e05a5a', type: [2, 3], width: 1 }
  }));
  return {
    silent: true, z: 1.5, symbol: ['none', 'none'], label: { show: false },
    emphasis: { disabled: true },
    data: days.concat(extra || [])
  };
}

function hLine(v, color) {
  return { yAxis: v, lineStyle: { color, type: 'solid', width: 1 } };
}

function lineSeries(gi, data, extraLines) {
  return {
    type: 'line', xAxisIndex: gi * 4, yAxisIndex: gi * 2, data,
    showSymbol: false, symbol: 'none', z: 3,
    lineStyle: { color: BLUE, width: 1.3 },
    markArea: shadeArea, markLine: markLines(extraLines),
    animation: false, silent: true
  };
}

function scatterSeries(gi, data, extraLines) {
  return {
    type: 'scatter', xAxisIndex: gi * 4, yAxisIndex: gi * 2, data,
    symbol: 'rect', symbolSize: 3.5, z: 3,
    itemStyle: { color: BLUE },
    markArea: shadeArea, markLine: markLines(extraLines),
    animation: false, silent: true
  };
}

const series = [
  lineSeries(0, vswData),
  {
    type: 'line', xAxisIndex: 4, yAxisIndex: 2, data: fitLine,
    showSymbol: false, symbol: 'none', z: 2, clip: false,
    lineStyle: { color: '#ff0000', width: 7, cap: 'butt' },
    animation: false, silent: true
  },
  lineSeries(1, rvswData),
  lineSeries(2, bData),
  scatterSeries(3, ratioData, ratioRef.map(v => hLine(v, '#e03c3c'))),
  scatterSeries(4, phiData,
    phiRefRed.map(v => hLine(v, '#e86a6a')).concat(phiRefGreen.map(v => hLine(v, '#33dd33')))),
  scatterSeries(5, thetaData, thetaRef.map(v => hLine(v, '#e86a6a')))
];

const option = {
  backgroundColor: '#ffffff',
  animation: false,
  textStyle: { fontFamily: FONT },
  grid: grids,
  xAxis: xAxes,
  yAxis: yAxes,
  series,
  graphic: [
    {
      type: 'text', x: 984, y: 352, z: 2, silent: true,
      style: {
        text: 'D. Lario', align: 'center', verticalAlign: 'middle',
        fontSize: 42, fontFamily: "'Liberation Serif', 'Times New Roman', serif",
        fill: '#e6e6e6',
        textShadowColor: 'rgba(90,90,90,0.8)', textShadowBlur: 1.5,
        textShadowOffsetX: 1.2, textShadowOffsetY: 1.2
      }
    },
    {
      type: 'text', x: 95, y: 945, silent: true,
      style: {
        text: yearLabel, align: 'center', verticalAlign: 'middle',
        fontSize: 25, fontFamily: FONT, fill: '#000'
      }
    }
  ]
};

const chart = echarts.init(document.getElementById('chart'), null, { renderer: 'canvas' });
chart.setOption(option);
</script>
</body>
</html>
